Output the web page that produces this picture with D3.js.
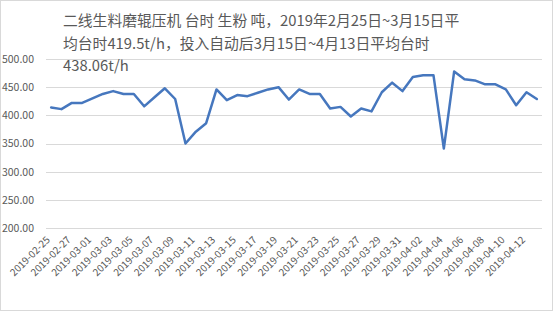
<!DOCTYPE html>
<html><head><meta charset="utf-8">
<script src="https://cdn.jsdelivr.net/npm/d3@7"></script>
<style>html,body{margin:0;padding:0;background:#fff;}svg{display:block;}</style>
</head><body>
<svg id="c" width="556" height="314"></svg>
<script>
const titleLines = [
  "二线生料磨辊压机 台时 生粉 吨，2019年2月25日~3月15日平",
  "均台时419.5t/h，投入自动后3月15日~4月13日平均台时",
  "438.06t/h"
];
const dates = [
  "2019-02-25","2019-02-26","2019-02-27","2019-02-28","2019-03-01","2019-03-02","2019-03-03","2019-03-04",
  "2019-03-05","2019-03-06","2019-03-07","2019-03-08","2019-03-09","2019-03-10","2019-03-11","2019-03-12",
  "2019-03-13","2019-03-14","2019-03-15","2019-03-16","2019-03-17","2019-03-18","2019-03-19","2019-03-20",
  "2019-03-21","2019-03-22","2019-03-23","2019-03-24","2019-03-25","2019-03-26","2019-03-27","2019-03-28",
  "2019-03-29","2019-03-30","2019-03-31","2019-04-01","2019-04-02","2019-04-03","2019-04-04","2019-04-05",
  "2019-04-06","2019-04-07","2019-04-08","2019-04-09","2019-04-10","2019-04-11","2019-04-12","2019-04-13"
];
const values = [
  414, 411, 422, 422, 430, 438, 443, 438,
  438, 416, 432, 448, 429, 350, 371, 386,
  446, 427, 436, 434, 440, 446, 450, 428,
  446, 438, 438, 412, 415, 398, 412, 407,
  441, 458, 443, 468, 471, 471, 341, 478,
  464, 462, 455, 455, 446, 418, 441, 429
];
const yTicks = [200, 250, 300, 350, 400, 450, 500];

const svg = d3.select("#c");
const font = "'Noto Sans CJK SC', 'Noto Sans', sans-serif";
const textColor = "#595959";

svg.append("rect").attr("x",0.5).attr("y",0.5).attr("width",552).attr("height",310)
  .attr("fill","#fff").attr("stroke","#d9d9d9");

const m = {left:46, right:542, top:59, bottom:228};
const x = d3.scaleBand().domain(dates).range([m.left, m.right]);
const y = d3.scaleLinear().domain([200, 500]).range([m.bottom, m.top]);

// gridlines
svg.append("g").selectAll("line").data(yTicks).join("line")
  .attr("x1", m.left).attr("x2", m.right)
  .attr("y1", d => Math.round(y(d)) + 0.5).attr("y2", d => Math.round(y(d)) + 0.5)
  .attr("stroke", "#d9d9d9").attr("stroke-width", 1);

// y axis labels
const yAxis = d3.axisLeft(y).tickValues(yTicks).tickFormat(d3.format(".2f")).tickSize(0).tickPadding(0);
const gy = svg.append("g").attr("transform", `translate(34,0)`).call(yAxis);
gy.select(".domain").remove();
gy.selectAll("text").attr("font-family", font).attr("font-size", 10.5).attr("fill", textColor);

// x axis labels
const xAxis = d3.axisBottom(x).tickValues(dates.filter((d,i) => i % 2 === 0)).tickSize(0).tickPadding(0);
const gx = svg.append("g").attr("transform", `translate(0,${m.bottom})`).call(xAxis);
gx.select(".domain").remove();
gx.selectAll("text")
  .attr("font-family", font).attr("font-size", 10).attr("fill", textColor)
  .attr("text-anchor", "end")
  .attr("dy", "0.35em").attr("y", 0)
  .attr("transform", "translate(-3,10) rotate(-45)");

// line
const line = d3.line().x((d,i) => x(dates[i]) + x.bandwidth()/2).y(d => y(d));
svg.append("path").datum(values).attr("d", line)
  .attr("fill", "none").attr("stroke", "#4677BE").attr("stroke-width", 2.5)
  .attr("stroke-linejoin", "round").attr("stroke-linecap", "round");

// title
const t = svg.append("text").attr("font-family", font).attr("font-size", 14.8).attr("fill", textColor);
titleLines.forEach((s, i) => {
  t.append("tspan").attr("x", 63).attr("y", 26 + i * 22.5).text(s);
});
</script>
</body></html>
